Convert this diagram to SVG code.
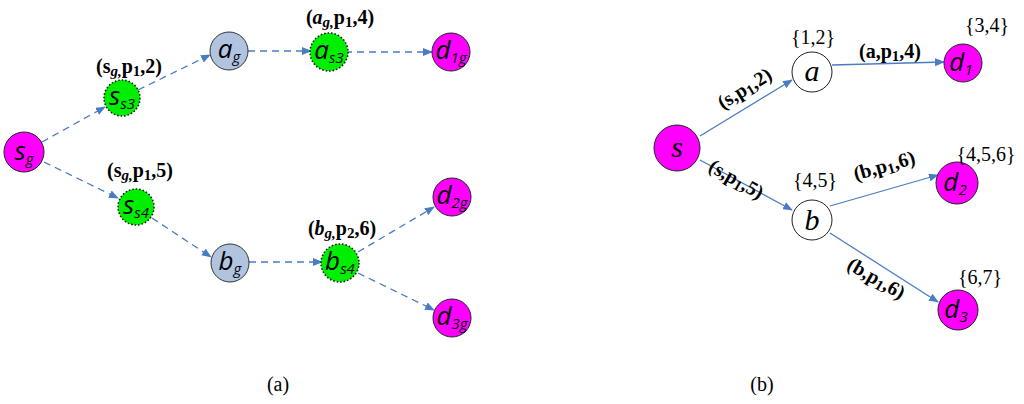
<svg xmlns="http://www.w3.org/2000/svg" width="1024" height="404" viewBox="0 0 1024 404">
<style>
.m{fill:#ff00ff;stroke:#222;stroke-width:1}
.g{fill:#00ee00;stroke:#111;stroke-width:1.5;stroke-dasharray:1.5 2}
.bl{fill:#b0c4e0;stroke:#333;stroke-width:1}
.w{fill:#fff;stroke:#222;stroke-width:1}
.n{font-family:"Open Sans","DejaVu Sans",sans-serif;font-style:italic;font-size:26px;text-anchor:middle}
.ns{font-family:"Liberation Serif",serif;font-style:italic;font-size:30px;text-anchor:middle}
.l{font-family:"Liberation Serif",serif;font-weight:bold;font-size:20px;text-anchor:middle}
.c{font-family:"Liberation Serif",serif;font-size:20px;text-anchor:middle}
.sub{font-size:15px}
.e{fill:none;stroke:#4a7cc4;stroke-width:1.3;marker-end:url(#ar)}
.d{stroke-dasharray:7 5}
</style>
<defs><marker id="ar" markerWidth="10" markerHeight="8" refX="9" refY="4" orient="auto" markerUnits="userSpaceOnUse"><path d="M0,0L10,4L0,8z" fill="#4a7cc4"/></marker></defs>
<g id="connectors">
<line class="e d" x1="42" y1="142" x2="105" y2="107"/>
<line class="e d" x1="138" y1="90" x2="210" y2="55"/>
<line class="e d" x1="248" y1="51" x2="311" y2="51"/>
<line class="e d" x1="345" y1="52" x2="432" y2="52"/>
<line class="e d" x1="44" y1="162" x2="118" y2="198"/>
<line class="e d" x1="152" y1="218" x2="211" y2="257"/>
<line class="e d" x1="249" y1="262" x2="322" y2="262"/>
<line class="e d" x1="358" y1="252" x2="434" y2="207"/>
<line class="e d" x1="358" y1="273" x2="434" y2="310"/>
<line class="e" x1="700" y1="136" x2="792" y2="80"/>
<line class="e" x1="832" y1="65" x2="944" y2="62"/>
<line class="e" x1="700" y1="160" x2="792" y2="210"/>
<line class="e" x1="830" y1="206" x2="938" y2="175"/>
<line class="e" x1="830" y1="233" x2="938" y2="302"/>
</g>
<g id="sg"><circle class="m" cx="24" cy="152" r="20"/><text class="n" x="24" y="160">s<tspan class="sub" dy="4">g</tspan></text></g>
<g id="ss3"><circle class="g" cx="122" cy="98" r="18"/><text class="n" x="122" y="105">s<tspan class="sub" dy="4">s3</tspan></text></g>
<g id="ag"><circle class="bl" cx="229" cy="51" r="19"/><text class="n" x="229" y="58">a<tspan class="sub" dy="4">g</tspan></text></g>
<g id="as3"><circle class="g" cx="329" cy="52" r="19"/><text class="n" x="329" y="59">a<tspan class="sub" dy="4">s3</tspan></text></g>
<g id="d1g"><circle class="m" cx="451" cy="52" r="19"/><text class="n" x="451" y="59">d<tspan class="sub" dy="4">1g</tspan></text></g>
<g id="ss4"><circle class="g" cx="136" cy="207" r="18"/><text class="n" x="136" y="214">s<tspan class="sub" dy="4">s4</tspan></text></g>
<g id="bg"><circle class="bl" cx="230" cy="263" r="19"/><text class="n" x="230" y="270">b<tspan class="sub" dy="4">g</tspan></text></g>
<g id="bs4"><circle class="g" cx="340" cy="263" r="19"/><text class="n" x="340" y="270">b<tspan class="sub" dy="4">s4</tspan></text></g>
<g id="d2g"><circle class="m" cx="452" cy="197" r="19"/><text class="n" x="452" y="204">d<tspan class="sub" dy="4">2g</tspan></text></g>
<g id="d3g"><circle class="m" cx="452" cy="318" r="19"/><text class="n" x="452" y="325">d<tspan class="sub" dy="4">3g</tspan></text></g>
<g id="left-labels">
<text class="l" x="129" y="73">(s<tspan class="sub" dy="3" font-style="italic">g,</tspan><tspan dy="-3">p</tspan><tspan class="sub" dy="3">1</tspan><tspan dy="-3">,2)</tspan></text>
<text class="l" x="340" y="24">(<tspan font-style="italic">a</tspan><tspan class="sub" dy="3" font-style="italic">g,</tspan><tspan dy="-3">p</tspan><tspan class="sub" dy="3">1</tspan><tspan dy="-3">,4)</tspan></text>
<text class="l" x="140" y="177">(s<tspan class="sub" dy="3" font-style="italic">g,</tspan><tspan dy="-3">p</tspan><tspan class="sub" dy="3">1</tspan><tspan dy="-3">,5)</tspan></text>
<text class="l" x="342" y="235">(<tspan font-style="italic">b</tspan><tspan class="sub" dy="3" font-style="italic">g,</tspan><tspan dy="-3">p</tspan><tspan class="sub" dy="3">2</tspan><tspan dy="-3">,6)</tspan></text>
<text class="c" x="278" y="391">(a)</text>
</g>
<g id="s"><circle class="m" cx="677" cy="148" r="23"/><text class="ns" x="677" y="157">s</text></g>
<g id="a"><circle class="w" cx="812" cy="72" r="20"/><text class="ns" x="812" y="81">a</text></g>
<g id="d1"><circle class="m" cx="963" cy="63" r="19"/><text class="n" x="961" y="71">d<tspan class="sub" dy="4">1</tspan></text></g>
<g id="b"><circle class="w" cx="812" cy="220" r="20"/><text class="ns" x="812" y="230">b</text></g>
<g id="d2"><circle class="m" cx="957" cy="183" r="21"/><text class="n" x="955" y="191">d<tspan class="sub" dy="4">2</tspan></text></g>
<g id="d3"><circle class="m" cx="958" cy="310" r="20"/><text class="n" x="956" y="318">d<tspan class="sub" dy="4">3</tspan></text></g>
<g id="right-labels">
<text class="c" x="813" y="44">{1,2}</text>
<text class="c" x="987" y="32">{3,4}</text>
<text class="c" x="815" y="187">{4,5}</text>
<text class="c" x="986" y="161">{4,5,6}</text>
<text class="c" x="980" y="284">{6,7}</text>
<text class="l" x="890" y="58">(a,p<tspan class="sub" dy="3">1</tspan><tspan dy="-3">,4)</tspan></text>
<text class="l" transform="translate(748,94) rotate(-32)">(s,p<tspan class="sub" dy="3">1</tspan><tspan dy="-3">,2)</tspan></text>
<text class="l" transform="translate(733,185) rotate(30)">(s,p<tspan class="sub" dy="3">1</tspan><tspan dy="-3">,5)</tspan></text>
<text class="l" transform="translate(886,172) rotate(-16)">(b,p<tspan class="sub" dy="3">1</tspan><tspan dy="-3">,6)</tspan></text>
<text class="l" transform="translate(873,284) rotate(30)">(b,p<tspan class="sub" dy="3">1</tspan><tspan dy="-3">,6)</tspan></text>
<text class="c" x="762" y="391">(b)</text>
</g>
</svg>
